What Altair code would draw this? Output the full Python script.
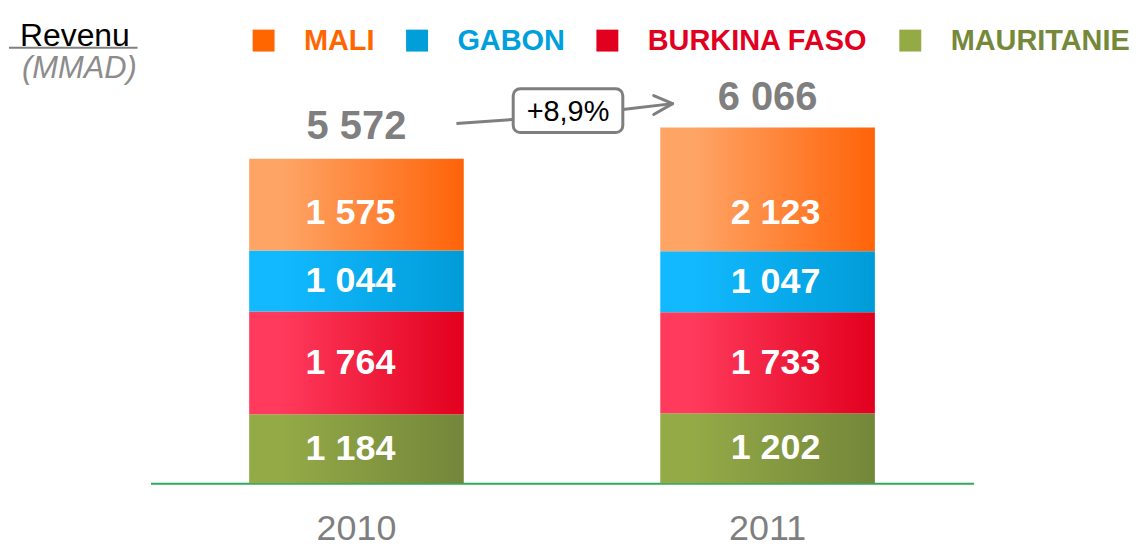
import altair as alt
import pandas as pd

# ---- data ----
years = ["2010", "2011"]
countries_bottom_up = ["MAURITANIE", "BURKINA FASO", "GABON", "MALI"]
legend_order = ["MALI", "GABON", "BURKINA FASO", "MAURITANIE"]
mali = [1575, 2123]
gabon = [1044, 1047]
burkina = [1764, 1733]
mauritanie = [1184, 1202]
totals = [5572, 6066]
growth_label = "+8,9%"

series = {"MALI": mali, "GABON": gabon, "BURKINA FASO": burkina, "MAURITANIE": mauritanie}


def fmt(v):
    return f"{v:,}".replace(",", " ")


rows = []
for c in countries_bottom_up:
    for i, y in enumerate(years):
        rows.append({"year": y, "country": c, "value": series[c][i],
                     "order": countries_bottom_up.index(c), "label": fmt(series[c][i])})
df = pd.DataFrame(rows)
tot_df = pd.DataFrame({"year": years, "total": totals, "label": [fmt(t) for t in totals]})

legend_colors = ["#FF6600", "#009FDA", "#E2001F", "#94AA45"]
label_colors = {"MALI": "#FF6600", "GABON": "#00A0DC", "BURKINA FASO": "#E2001F", "MAURITANIE": "#76883A"}

gradients = {
    "MALI": ("#FEA566", "#FF6309"),
    "GABON": ("#12B9FF", "#009CD8"),
    "BURKINA FASO": ("#FF3A5C", "#E2001E"),
    "MAURITANIE": ("#94AA47", "#74863A"),
}

FONT = "Liberation Sans"
W, H = 1122, 476
label_dx = {"2010": -6, "2011": 8}   # segment labels sit slightly off-centre in the original

x_enc = alt.X("year:N", title=None,
              scale=alt.Scale(range=[143, 969], paddingInner=0.478, paddingOuter=0.24),
              axis=alt.Axis(labelAngle=0, ticks=False, domainColor="#2EAA5C", domainWidth=2,
                            labelFontSize=36, labelFont=FONT, labelColor="#7F7F7F",
                            labelPadding=28))
y_scale = alt.Scale(domain=[0, 8137], nice=False, zero=False)

base = alt.Chart(df).transform_stack(
    stack="value", groupby=["year"], as_=["v0", "v1"], sort=[alt.SortField("order")]
)

layers = []
for c in countries_bottom_up:
    c0, c1 = gradients[c]
    grad = alt.Gradient(gradient="linear",
                        stops=[alt.GradientStop(color=c0, offset=0),
                               alt.GradientStop(color=c0, offset=0.15),
                               alt.GradientStop(color=c1, offset=1)],
                        x1=0, x2=1, y1=0, y2=0)
    layers.append(
        base.transform_filter(alt.datum.country == c)
        .mark_bar(color=grad, strokeWidth=0)
        .encode(x=x_enc,
                y=alt.Y("v0:Q", scale=y_scale, axis=None),
                y2="v1:Q")
    )

# invisible marks carrying the legend
label_expr = " : ".join(
    [f"datum.label == '{k}' ? '{v}'" for k, v in label_colors.items()]) + " : 'black'"
legend_layer = base.mark_square(size=0, opacity=1).encode(
    x=x_enc,
    y=alt.Y("v1:Q", scale=y_scale, axis=None),
    color=alt.Color("country:N",
                    scale=alt.Scale(domain=legend_order, range=legend_colors),
                    legend=alt.Legend(orient="none", legendX=242, legendY=17, direction="horizontal",
                                      columns=4, title=None, symbolType="square", symbolSize=484,
                                      symbolOpacity=1, symbolStrokeWidth=0,
                                      labelFont=FONT, labelFontSize=29, labelFontWeight="bold",
                                      labelColor={"expr": label_expr},
                                      labelOffset=26, columnPadding=28, labelLimit=400, padding=0)),
)

seg_label_layers = []
for yr in years:
    seg_label_layers.append(
        base.transform_filter(alt.datum.year == yr).transform_calculate(
            ly="datum.country == 'MALI' ? datum.v0 + 650 : (datum.v0 + datum.v1) / 2"
        ).mark_text(font=FONT, fontSize=36, fontWeight="bold", color="white", baseline="middle",
                    dx=label_dx[yr]).encode(
            x=x_enc,
            y=alt.Y("ly:Q", scale=y_scale, axis=None),
            text="label:N",
        )
    )

total_labels = alt.Chart(tot_df).mark_text(
    font=FONT, fontSize=40, fontWeight="bold", color="#7F7F7F", baseline="alphabetic", dy=-20
).encode(
    x=x_enc,
    y=alt.Y("total:Q", scale=y_scale, axis=None),
    text="label:N",
)

# annotations (decorative)
ann_df = pd.DataFrame({"t": [growth_label]})
gray = "#7F7F7F"
line1 = alt.Chart(ann_df).mark_rule(color=gray, strokeWidth=3).encode(
    x=alt.value(450), y=alt.value(115), x2=alt.value(506), y2=alt.value(111))
line2 = alt.Chart(ann_df).mark_rule(color=gray, strokeWidth=3).encode(
    x=alt.value(617), y=alt.value(101), x2=alt.value(667), y2=alt.value(95))
arm1 = alt.Chart(ann_df).mark_rule(color=gray, strokeWidth=3, strokeCap="round").encode(
    x=alt.value(648), y=alt.value(87), x2=alt.value(667), y2=alt.value(95))
arm2 = alt.Chart(ann_df).mark_rule(color=gray, strokeWidth=3, strokeCap="round").encode(
    x=alt.value(648), y=alt.value(106), x2=alt.value(667), y2=alt.value(95))
box = alt.Chart(ann_df).mark_rect(fill="white", stroke=gray, strokeWidth=3, cornerRadius=7).encode(
    x=alt.value(507), x2=alt.value(617), y=alt.value(80), y2=alt.value(124))
box_text = alt.Chart(ann_df).mark_text(font=FONT, fontSize=29, color="black", baseline="middle").encode(
    x=alt.value(562), y=alt.value(103), text="t:N")

title_df = pd.DataFrame({"a": ["Revenu"], "b": ["(MMAD)"]})
rev = alt.Chart(title_df).mark_text(font=FONT, fontSize=32, color="black", align="left",
                                    baseline="alphabetic").encode(
    x=alt.value(12), y=alt.value(37), text="a:N")
underline = alt.Chart(title_df).mark_rule(color="#808080", strokeWidth=2).encode(
    x=alt.value(1), x2=alt.value(130), y=alt.value(39))
mmad = alt.Chart(title_df).mark_text(font=FONT, fontSize=31, color="#8C8C8C", fontStyle="italic",
                                     align="left", baseline="alphabetic").encode(
    x=alt.value(14), y=alt.value(69), text="b:N")

chart = alt.layer(
    *layers, legend_layer, *seg_label_layers, total_labels,
    line1, line2, arm1, arm2, box, box_text, rev, underline, mmad
).properties(width=W, height=H, padding=0, background="white").configure_view(strokeWidth=0, stroke="transparent")

chart.save("out.html", embed_options={"renderer": "svg", "actions": False})
